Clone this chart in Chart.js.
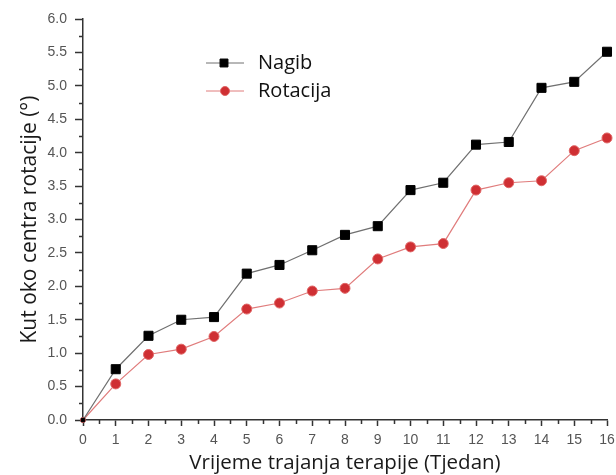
<!DOCTYPE html>
<html>
<head>
<meta charset="utf-8">
<script src="https://cdn.jsdelivr.net/npm/chart.js@4/dist/chart.umd.min.js"></script>
<style>
  html, body { margin: 0; padding: 0; background: #fff; }
  #wrap { width: 616px; height: 475px; }
</style>
</head>
<body>
<div id="wrap"><canvas id="kutChart" width="616" height="475"></canvas></div>
<script>
const weeks = [0, 1, 2, 3, 4, 5, 6, 7, 8, 9, 10, 11, 12, 13, 14, 15, 16];
const nagib = [0, 0.76, 1.26, 1.50, 1.54, 2.19, 2.32, 2.54, 2.77, 2.90, 3.44, 3.55, 4.12, 4.16, 4.97, 5.06, 5.51];
const rotacija = [0, 0.54, 0.98, 1.06, 1.25, 1.66, 1.75, 1.93, 1.97, 2.41, 2.59, 2.64, 3.44, 3.55, 3.58, 4.03, 4.22];
const seriesNames = ['Nagib', 'Rotacija'];

const tickFont = { family: "'Liberation Sans', Arial, sans-serif", size: 14 };

// small ticks between the labelled ones
const minorTicks = {
  id: 'minorTicks',
  afterDraw(chart) {
    const { ctx, scales: { x, y } } = chart;
    ctx.save();
    ctx.strokeStyle = '#333';
    ctx.lineWidth = 1.5;
    ctx.beginPath();
    for (let v = 0.25; v < 6; v += 0.5) {
      const py = Math.round(y.getPixelForValue(v)) + 0.5;
      ctx.moveTo(x.left - 4, py);
      ctx.lineTo(x.left, py);
    }
    for (let v = 0.5; v < 16; v += 1) {
      const px = Math.round(x.getPixelForValue(v)) + 0.5;
      ctx.moveTo(px, y.bottom);
      ctx.lineTo(px, y.bottom + 4);
    }
    ctx.stroke();
    ctx.restore();
  }
};

// legend inside the plot, upper left
const legendMarker = [5.6, 4.5];
const insideLegend = {
  id: 'insideLegend',
  afterDraw(chart) {
    const { ctx } = chart;
    chart.data.datasets.forEach((ds, i) => {
      const yy = 63 + i * 28;
      const r = legendMarker[i];
      ctx.save();
      ctx.strokeStyle = ds.borderColor;
      ctx.lineWidth = 1;
      ctx.beginPath();
      ctx.moveTo(206, yy);
      ctx.lineTo(244, yy);
      ctx.stroke();
      ctx.fillStyle = ds.pointBackgroundColor;
      ctx.strokeStyle = ds.pointBorderColor;
      ctx.beginPath();
      if (ds.pointStyle === 'rect') {
        const s = r * Math.SQRT1_2;
        ctx.rect(224 - s, yy - s, 2 * s, 2 * s);
      } else {
        ctx.arc(225, yy, r, 0, Math.PI * 2);
      }
      ctx.fill();
      ctx.stroke();
      ctx.fillStyle = '#111';
      ctx.font = "20px 'Open Sans', sans-serif";
      ctx.textBaseline = 'middle';
      ctx.fillText(ds.label, 258, yy);
      ctx.restore();
    });
  }
};

new Chart(document.getElementById('kutChart'), {
  type: 'line',
  data: {
    datasets: [{
      label: seriesNames[0],
      data: weeks.map((w, i) => ({ x: w, y: nagib[i] })),
      borderColor: '#707070',
      borderWidth: 1.2,
      pointStyle: 'rect',
      pointRadius: ctx => ctx.dataIndex === 0 ? 2.5 : 6.4,
      pointBackgroundColor: '#000',
      pointBorderColor: '#000',
      pointBorderWidth: 1,
      clip: false
    }, {
      label: seriesNames[1],
      data: weeks.map((w, i) => ({ x: w, y: rotacija[i] })),
      borderColor: '#e07c7c',
      borderWidth: 1.2,
      pointStyle: 'circle',
      pointRadius: ctx => ctx.dataIndex === 0 ? 2.5 : 5,
      pointBackgroundColor: '#cf2f33',
      pointBorderColor: '#e06565',
      pointBorderWidth: 1,
      clip: false
    }]
  },
  options: {
    responsive: false,
    animation: false,
    layout: { padding: { top: 19, right: 0, left: 0, bottom: 0 } },
    scales: {
      x: {
        type: 'linear',
        min: 0,
        max: 16,
        afterFit(scale) {
          scale.height = 55;
          scale.paddingLeft = 0;
          scale.paddingRight = 9;
        },
        ticks: { stepSize: 1, color: '#555', font: tickFont, padding: 6, maxRotation: 0 },
        grid: { drawOnChartArea: false, tickLength: 6, tickColor: '#333', tickWidth: 1.5 },
        border: { color: '#333', width: 1.5 },
        title: {
          display: true, text: 'Vrijeme trajanja terapije (Tjedan)', color: '#1a1a1a',
          font: { family: "'Open Sans', sans-serif", size: 20.5 }, padding: { top: 0, bottom: 0 }
        }
      },
      y: {
        min: 0,
        max: 6,
        afterFit(scale) { scale.width = 83; },
        ticks: { stepSize: 0.5, color: '#555', font: tickFont, padding: 8, callback: v => v.toFixed(1) },
        grid: { drawOnChartArea: false, tickLength: 8, tickColor: '#333', tickWidth: 1.5 },
        border: { color: '#333', width: 1.5 },
        title: {
          display: true, text: 'Kut oko centra rotacije (°)', color: '#1a1a1a',
          font: { family: "'Open Sans', sans-serif", size: 21 }, padding: { top: 17, bottom: 0 }
        }
      }
    },
    plugins: {
      legend: { display: false },
      tooltip: { enabled: false }
    }
  },
  plugins: [minorTicks, insideLegend]
});
</script>
</body>
</html>
